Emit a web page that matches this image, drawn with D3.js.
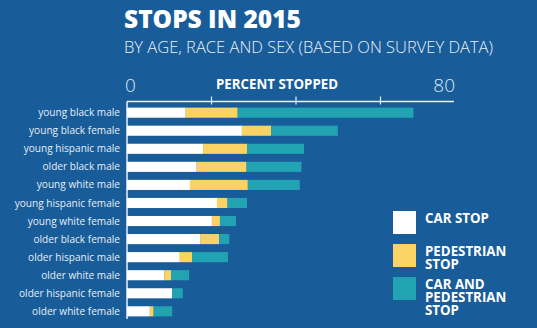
<!DOCTYPE html>
<html lang="en">
<head>
  <meta charset="UTF-8">
  <title>Stops in 2015</title>
  <script src="https://d3js.org/d3.v7.min.js"></script>
  <style>
    body {
      margin: 0;
      padding: 0;
      background: #185c99;
      font-family: 'Open Sans', sans-serif;
    }
  </style>
</head>
<body>
  <div id="chart"></div>

  <script>
    // Groups (top to bottom) and percent stopped by type
    const groups = [
      'young black male', 'young black female', 'young hispanic male',
      'older black male', 'young white male', 'young hispanic female',
      'young white female', 'older black female', 'older hispanic male',
      'older white male', 'older hispanic female', 'older white female'
    ];
    const carStop = [13.9, 27.2, 18.0, 16.5, 14.9, 21.3, 20.1, 17.3, 12.5, 8.8, 10.7, 5.4];
    const pedestrianStop = [12.3, 6.9, 10.4, 11.8, 13.7, 2.5, 1.9, 4.5, 2.9, 1.7, 0, 0.9];
    const carAndPedestrian = [41.6, 15.8, 13.5, 13.0, 12.3, 4.6, 3.8, 2.4, 8.5, 4.2, 2.5, 4.4];

    const seriesNames = ['CAR STOP', 'PEDESTRIAN STOP', 'CAR AND PEDESTRIAN STOP'];
    const legendLines = [['CAR STOP'], ['PEDESTRIAN', 'STOP'], ['CAR AND', 'PEDESTRIAN', 'STOP']];
    const colors = ['#ffffff', '#fad364', '#22a3b2'];
    const tickValues = [20, 40, 60];
    const endLabels = ['0', '80'];

    const width = 537, height = 328;
    const svg = d3.select('#chart').append('svg')
      .attr('width', width)
      .attr('height', height);

    svg.append('rect').attr('width', width).attr('height', height).attr('fill', '#185c99');

    // Titles
    svg.append('text')
      .attr('x', 124).attr('y', 28)
      .attr('fill', '#fff')
      .attr('font-size', 24.5).attr('font-weight', 800)
      .text('STOPS IN 2015');
    svg.append('text')
      .attr('x', 124).attr('y', 53)
      .attr('fill', '#e8f0f8')
      .attr('font-size', 16.5).attr('font-weight', 300)
      .text('BY AGE, RACE AND SEX (BASED ON SURVEY DATA)');

    const x = d3.scaleLinear().domain([0, 80]).range([127, 465]);
    const y = d3.scaleBand().domain(groups).range([104, 320]).paddingInner(0.44).paddingOuter(0.2);

    // Axis on top
    const axisY = 101.5;
    svg.append('line')
      .attr('x1', x(0)).attr('x2', 454)
      .attr('y1', axisY).attr('y2', axisY)
      .attr('stroke', '#e8f0f8').attr('stroke-width', 1.5);
    svg.append('line')
      .attr('x1', x(0)).attr('x2', x(0))
      .attr('y1', axisY).attr('y2', 319)
      .attr('stroke', '#e8f0f8').attr('stroke-width', 1.5);
    svg.selectAll('.tick')
      .data(tickValues)
      .join('line')
      .attr('class', 'tick')
      .attr('x1', d => x(d)).attr('x2', d => x(d))
      .attr('y1', axisY - 5).attr('y2', axisY + 3)
      .attr('stroke', '#e8f0f8').attr('stroke-width', 1.2);

    svg.append('text')
      .attr('x', 125).attr('y', 92)
      .attr('fill', '#dbe7f3').attr('font-size', 19).attr('font-weight', 300)
      .text(endLabels[0]);
    svg.append('text')
      .attr('x', 455).attr('y', 92)
      .attr('text-anchor', 'end')
      .attr('fill', '#dbe7f3').attr('font-size', 19).attr('font-weight', 300)
      .text(endLabels[1]);
    svg.append('text')
      .attr('x', 277).attr('y', 89)
      .attr('text-anchor', 'middle')
      .attr('fill', '#fff').attr('font-size', 13.3).attr('font-weight', 700)
      .text('PERCENT STOPPED');

    // Stacked bars
    const rows = groups.map((g, i) => ({
      group: g, car: carStop[i], ped: pedestrianStop[i], both: carAndPedestrian[i]
    }));
    const stacked = d3.stack().keys(['car', 'ped', 'both'])(rows);

    svg.append('g')
      .selectAll('g')
      .data(stacked)
      .join('g')
      .attr('fill', (d, i) => colors[i])
      .selectAll('rect')
      .data(d => d)
      .join('rect')
      .attr('x', d => x(d[0]))
      .attr('y', d => y(d.data.group))
      .attr('width', d => x(d[1]) - x(d[0]))
      .attr('height', y.bandwidth());

    // Row labels
    svg.append('g')
      .selectAll('text')
      .data(groups)
      .join('text')
      .attr('x', 120)
      .attr('y', d => y(d) + y.bandwidth() / 2)
      .attr('dy', '0.35em')
      .attr('text-anchor', 'end')
      .attr('fill', '#e6eef6')
      .attr('font-size', 10.1)
      .text(d => d);

    // Legend
    const legend = svg.append('g')
      .selectAll('g')
      .data(seriesNames)
      .join('g')
      .attr('transform', (d, i) => `translate(393,${211 + i * 33})`);
    legend.append('rect')
      .attr('width', 23).attr('height', 23)
      .attr('fill', (d, i) => colors[i]);
    legend.append('text')
      .attr('x', 32).attr('y', 12)
      .attr('fill', '#fff').attr('font-size', 13.3).attr('font-weight', 700)
      .selectAll('tspan')
      .data((d, i) => legendLines[i])
      .join('tspan')
      .attr('x', 32)
      .attr('dy', (d, j) => j === 0 ? 0 : 13)
      .text(d => d);
  </script>
</body>
</html>
